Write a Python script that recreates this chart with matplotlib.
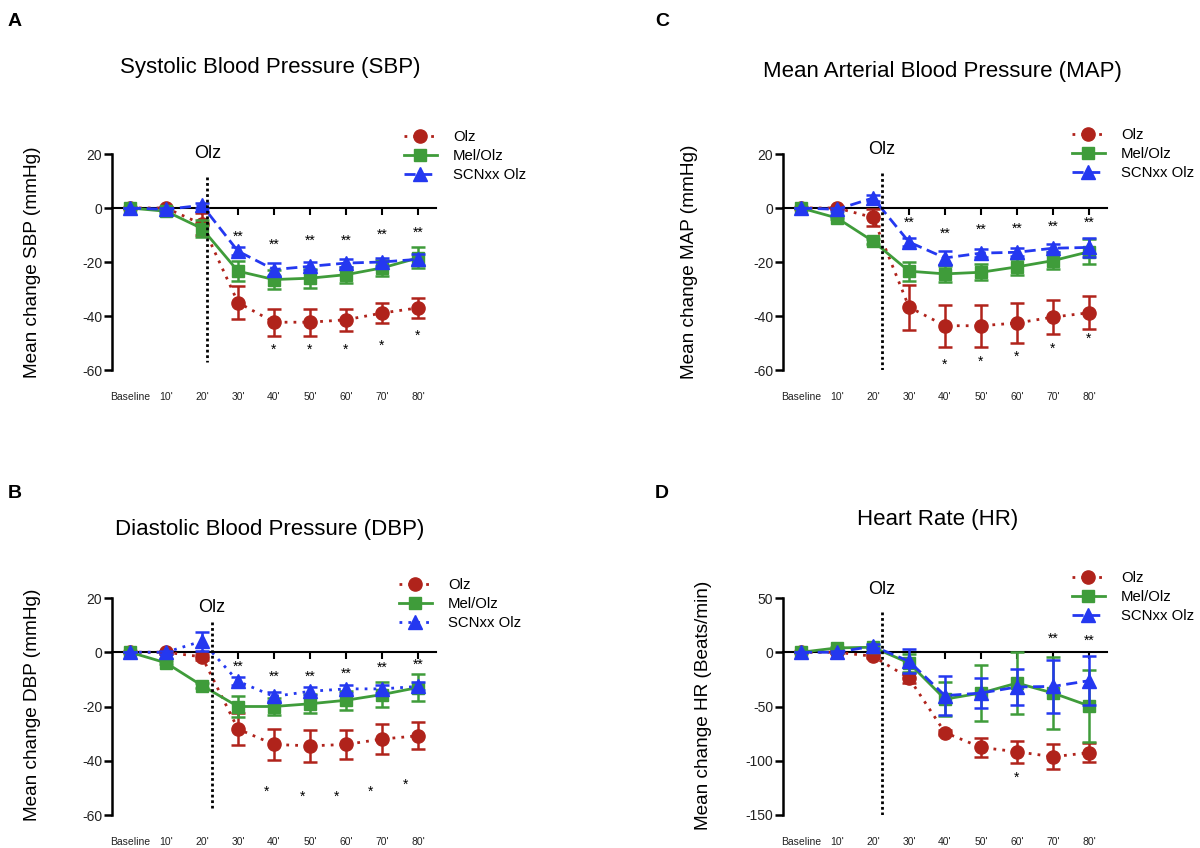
import matplotlib.pyplot as plt
from matplotlib.lines import Line2D
from matplotlib.transforms import blended_transform_factory

plt.rcParams['font.family'] = ['Liberation Sans', 'DejaVu Sans']
plt.rcParams['axes.unicode_minus'] = False

TIMEPOINTS = ['Baseline', "10'", "20'", "30'", "40'", "50'", "60'", "70'", "80'"]

# Systolic blood pressure
sbp_olz = [0, 0, -6, -35, -42.3, -42.3, -41.4, -38.9, -37]
sbp_olz_err = [0, 0.5, 4, 6, 5, 5, 4, 3.7, 3.8]
sbp_mel = [0, -1.2, -7.6, -23.4, -26.5, -26, -24.7, -22.2, -18.5]
sbp_mel_err = [0, 0.5, 3, 3.7, 3.5, 3.5, 3, 3, 3.9]
sbp_scn = [0, -0.5, 1, -16, -22.8, -21.6, -20.4, -20, -19]
sbp_scn_err = [0, 0.5, 1, 1.5, 2.5, 1.5, 1.5, 1.5, 2]
sbp_dbl_x = [3, 4, 5, 6, 7, 8]
sbp_dbl_y = [-10.5, -13.6, -12.3, -12.3, -9.9, -9]
sbp_sgl_x = [4, 5, 6, 7, 8]
sbp_sgl_y = [-52.5, -52.5, -52.5, -51, -47.3]

# Diastolic blood pressure
dbp_olz = [0, 0, -1.7, -28.3, -34, -34.5, -34, -32, -30.8]
dbp_olz_err = [0, 0.5, 1, 5.8, 5.7, 6, 5.5, 5.4, 5]
dbp_mel = [0, -3.9, -12.3, -20, -20, -19, -17.7, -15.6, -13]
dbp_mel_err = [0, 0.5, 1, 3.8, 3, 3.5, 3.5, 4.5, 5]
dbp_scn = [0, 0, 4.1, -10.7, -16.3, -14.4, -13.5, -13.5, -12.6]
dbp_scn_err = [0, 0.5, 3.5, 1.5, 1.5, 1.5, 1.5, 1.5, 1.5]
dbp_dbl_x = [3, 4, 5, 6, 7, 8]
dbp_dbl_y = [-5.4, -8.9, -8.9, -7.9, -5.8, -4.6]
dbp_sgl_x = [3.8, 4.8, 5.75, 6.67, 7.64]
dbp_sgl_y = [-51.4, -53.2, -53.2, -51.4, -48.7]

# Mean arterial pressure
map_olz = [0, 0, -3.5, -36.7, -43.6, -43.6, -42.6, -40.4, -38.8]
map_olz_err = [0, 0.5, 3, 8.3, 7.8, 7.8, 7.3, 6.2, 6.1]
map_mel = [0, -3.7, -12.3, -23.4, -24.4, -23.8, -21.8, -19.5, -16.2]
map_mel_err = [0, 0.5, 1, 3.5, 3, 3, 3, 3.2, 4.6]
map_scn = [0, -0.5, 3.7, -12.6, -18.5, -16.7, -16.4, -14.9, -14.6]
map_scn_err = [0, 0.5, 1, 1.5, 2.5, 1.5, 1.5, 1.5, 3.4]
map_dbl_x = [3, 4, 5, 6, 7, 8]
map_dbl_y = [-5.6, -9.6, -8, -7.7, -6.9, -5.4]
map_sgl_x = [4, 5, 6, 7, 8]
map_sgl_y = [-58, -57, -55, -52.3, -48.6]

# Heart rate
hr_olz = [0, 0, -3.7, -23.8, -74, -87.7, -91.7, -96.3, -92.6]
hr_olz_err = [0, 1, 2, 5, 2, 8.5, 10, 11.6, 9]
hr_mel = [0, 4, 4.6, -9.9, -43.2, -37.6, -28.4, -37.6, -49.4]
hr_mel_err = [0, 1, 2, 8, 16, 26, 28.5, 33, 33]
hr_scn = [0, 0, 5.6, -8.3, -40, -37.6, -32, -31.5, -26.2]
hr_scn_err = [0, 1, 2, 11, 18, 13.5, 17, 24.7, 22.4]
hr_dbl_x = [7, 8]
hr_dbl_y = [12.4, 11]
hr_sgl_x = [6]
hr_sgl_y = [-116]

RED = '#b0231b'
GREEN = '#3f9c3a'
BLUE = '#2438f0'

W, H = 1200, 848


def px_axes(fig, left, top, right, bottom):
    return fig.add_axes([left / W, 1 - bottom / H, (right - left) / W, (bottom - top) / H])


def draw_panel(ax, olz, olz_err, mel, mel_err, scn, scn_err, dbl, sgl,
               ylim, yticks, olz_x, olz_span, olz_text_y, blue_ls):
    x = list(range(len(TIMEPOINTS)))
    styles = [
        (olz, olz_err, RED, 'o', (0, (1, 2.2)), 9.5, 3),
        (mel, mel_err, GREEN, 's', '-', 9, 4),
        (scn, scn_err, BLUE, '^', blue_ls, 10, 5),
    ]
    for y, err, col, mk, ls, ms, z in styles:
        ax.errorbar(x, y, yerr=err, color=col, marker=mk, ms=ms, ls=ls, lw=2,
                    elinewidth=1.8, capsize=5, capthick=1.8, zorder=z, clip_on=False)

    ax.set_xlim(-0.5, 8.5)
    ax.set_ylim(*ylim)
    ax.set_yticks(yticks)
    ax.spines['top'].set_visible(False)
    ax.spines['right'].set_visible(False)
    ax.spines['bottom'].set_position(('data', 0))
    ax.spines['left'].set_linewidth(1.8)
    ax.spines['bottom'].set_linewidth(1.5)
    ax.set_xticks(x)
    ax.tick_params(axis='x', direction='out', length=5, width=1.5, labelbottom=False)
    ax.tick_params(axis='y', direction='out', length=6, width=1.8, pad=1,
                   labelsize=10, labelcolor='#222222')

    trans = blended_transform_factory(ax.transData, ax.transAxes)
    for i, lab in enumerate(TIMEPOINTS):
        ax.text(i, -0.125, lab, transform=trans, ha='center', va='center',
                fontsize=7.5, color='#222222')

    ax.plot([olz_x, olz_x], olz_span, color='black', lw=2, ls=(0, (1, 1)), zorder=6)
    ax.text(olz_x, olz_text_y, 'Olz', ha='center', va='center', fontsize=13)

    for xs, ys in zip(dbl[0], dbl[1]):
        ax.text(xs, ys, '**', ha='center', va='center', fontsize=10)
    for xs, ys in zip(sgl[0], sgl[1]):
        ax.text(xs, ys, '*', ha='center', va='center', fontsize=10)


def add_legend(fig, left, top, blue_ls):
    handles = [
        Line2D([], [], color=RED, marker='o', ms=9.5, ls=(0, (1, 2.2)), lw=2),
        Line2D([], [], color=GREEN, marker='s', ms=9, ls='-', lw=2),
        Line2D([], [], color=BLUE, marker='^', ms=10, ls=blue_ls, lw=2),
    ]
    fig.legend(handles, ['Olz', 'Mel/Olz', 'SCNxx Olz'], loc='upper left',
               bbox_to_anchor=(left / W, 1 - top / H), frameon=False, fontsize=10.7,
               handlelength=2.2, handletextpad=1.1, labelspacing=0.34,
               borderpad=0, borderaxespad=0)


fig = plt.figure(figsize=(12, 8.48), dpi=100)

ax_a = px_axes(fig, 112, 154, 436, 370)
draw_panel(ax_a, sbp_olz, sbp_olz_err, sbp_mel, sbp_mel_err, sbp_scn, sbp_scn_err,
           (sbp_dbl_x, sbp_dbl_y), (sbp_sgl_x, sbp_sgl_y),
           (-60, 20), [20, 0, -20, -40, -60], 2.15, (11.5, -57), 20, (0, (4, 2)))
ax_c = px_axes(fig, 783, 154, 1107, 370)
draw_panel(ax_c, map_olz, map_olz_err, map_mel, map_mel_err, map_scn, map_scn_err,
           (map_dbl_x, map_dbl_y), (map_sgl_x, map_sgl_y),
           (-60, 20), [20, 0, -20, -40, -60], 2.25, (13, -60), 21.5, (0, (4, 2)))
ax_b = px_axes(fig, 112, 598, 436, 815)
draw_panel(ax_b, dbp_olz, dbp_olz_err, dbp_mel, dbp_mel_err, dbp_scn, dbp_scn_err,
           (dbp_dbl_x, dbp_dbl_y), (dbp_sgl_x, dbp_sgl_y),
           (-60, 20), [20, 0, -20, -40, -60], 2.28, (11, -57.6), 16.5, (0, (1, 2.2)))
ax_d = px_axes(fig, 783, 598, 1107, 815)
draw_panel(ax_d, hr_olz, hr_olz_err, hr_mel, hr_mel_err, hr_scn, hr_scn_err,
           (hr_dbl_x, hr_dbl_y), (hr_sgl_x, hr_sgl_y),
           (-150, 50), [50, 0, -50, -100, -150], 2.25, (36.7, -150), 58, (0, (4, 2)))

add_legend(fig, 404, 130, (0, (4, 2)))
add_legend(fig, 1072, 128, (0, (4, 2)))
add_legend(fig, 399, 578, (0, (1, 2.2)))
add_legend(fig, 1072, 571, (0, (4, 2)))

# titles, panel letters, y labels
fig.text(270 / W, 1 - 67 / H, 'Systolic Blood Pressure (SBP)', ha='center', va='center', fontsize=16)
fig.text(942 / W, 1 - 72 / H, 'Mean Arterial Blood Pressure (MAP)', ha='center', va='center', fontsize=16)
fig.text(270 / W, 1 - 529 / H, 'Diastolic Blood Pressure (DBP)', ha='center', va='center', fontsize=16)
fig.text(938 / W, 1 - 519 / H, 'Heart Rate (HR)', ha='center', va='center', fontsize=16)
for letter, lx, ly in [('A', 15, 22), ('C', 662, 22), ('B', 15, 493), ('D', 662, 493)]:
    fig.text(lx / W, 1 - ly / H, letter, ha='center', va='center', fontsize=14, fontweight='bold')
for text, lx, ly in [('Mean change SBP (mmHg)', 33, 262), ('Mean change MAP (mmHg)', 690, 262),
                     ('Mean change DBP (mmHg)', 33, 705), ('Mean change HR (Beats/min)', 703, 705)]:
    fig.text(lx / W, 1 - ly / H, text, ha='center', va='center', rotation=90, fontsize=13.7)

fig.savefig('out.png', dpi=100)
